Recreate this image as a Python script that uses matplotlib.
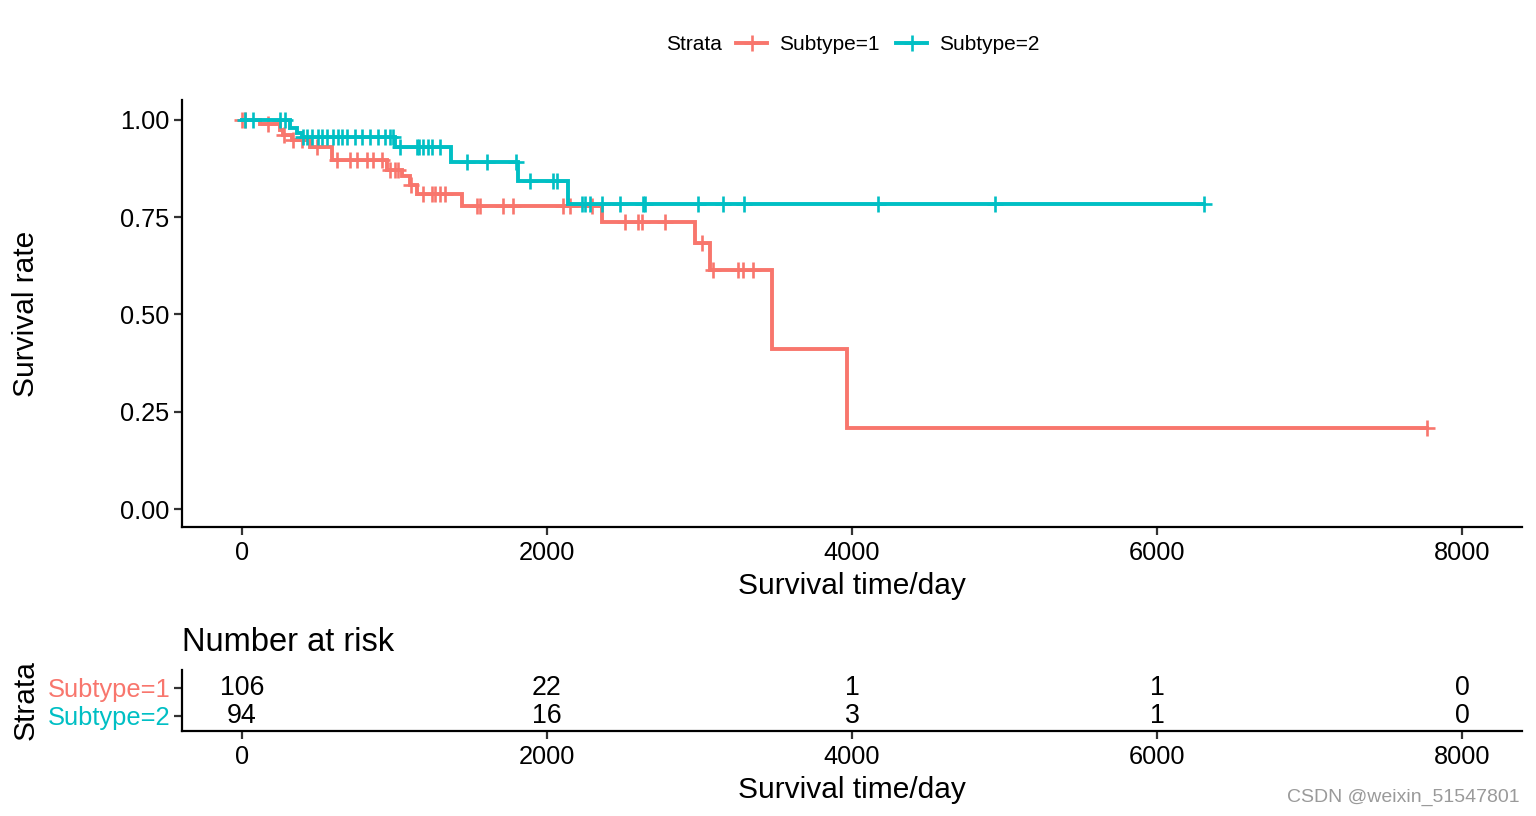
import numpy as np
import matplotlib
matplotlib.use("Agg")
import matplotlib.pyplot as plt
from matplotlib.lines import Line2D

plt.rcParams['font.family'] = ['Liberation Sans', 'DejaVu Sans']

# ---------------- data ----------------
strata = ["Subtype=1", "Subtype=2"]
colors = ["#F8766D", "#00BFC4"]

# Subtype=1 : event times (day) and survival after each step
s1_event_times = [118, 249, 269, 328, 446, 590, 951, 1049, 1102, 1148, 1443, 2361, 2970, 3069, 3475, 3967]
s1_surv = [0.99, 0.975, 0.96, 0.948, 0.93, 0.897, 0.871, 0.855, 0.833, 0.81, 0.779, 0.738, 0.684, 0.614, 0.411, 0.208]
s1_censor = [3, 20, 170, 275, 334, 393, 492, 623, 708, 754, 820, 859, 918, 970, 1003, 1023, 1110,
             1187, 1246, 1266, 1298, 1331, 1541, 1561, 1711, 1777, 2105, 2151, 2295, 2511, 2597,
             2623, 2774, 3016, 3089, 3252, 3285, 3351, 7770]
s1_end = 7770

# Subtype=2
s2_event_times = [315, 361, 393, 1003, 1370, 1810, 2138]
s2_surv = [0.98, 0.967, 0.957, 0.93, 0.892, 0.843, 0.784]
s2_censor = [20, 72, 249, 282, 400, 426, 459, 498, 525, 557, 597, 630, 656, 689, 741, 787, 839, 892,
             938, 970, 990, 1036, 1148, 1161, 1187, 1220, 1246, 1298, 1475, 1607, 1797, 1889, 2039,
             2066, 2230, 2249, 2282, 2361, 2479, 2630, 2643, 2990, 3154, 3292, 4170, 4938, 6308]
s2_end = 6308

risk_times = [0, 2000, 4000, 6000, 8000]
risk_s1 = [106, 22, 1, 1, 0]
risk_s2 = [94, 16, 3, 1, 0]

x_ticks = [0, 2000, 4000, 6000, 8000]
y_ticks = [0.00, 0.25, 0.50, 0.75, 1.00]

# ---------------- figure ----------------
fig = plt.figure(figsize=(15.36, 8.16), dpi=100)
W, H = 1536, 816

def fbox(l, t, r, b):
    return [l / W, 1 - b / H, (r - l) / W, (b - t) / H]

ax = fig.add_axes(fbox(182, 100, 1522, 527))
ax2 = fig.add_axes(fbox(182, 670, 1522, 731))

xlim = (-393, 8393)
lw_axis = 1.6
tick_fs = 18.3
title_fs = 21.5
line_w = 2.8
mk = dict(marker='+', ms=12, mew=1.9)

def surv_at(t, ev, sv):
    idx = np.searchsorted(ev, t, side='right')
    return 1.0 if idx == 0 else sv[idx - 1]

series = [(s1_event_times, s1_surv, s1_censor, s1_end),
          (s2_event_times, s2_surv, s2_censor, s2_end)]
for (ev, sv, cens, end), col, lab in zip(series, colors, strata):
    xs = [0] + list(ev) + [end]
    ys = [1.0] + list(sv) + [sv[-1]]
    ax.step(xs, ys, where='post', color=col, lw=line_w, solid_joinstyle='miter')
    cy = [surv_at(t, ev, sv) for t in cens]
    ax.plot(cens, cy, ls='none', color=col, **mk)

ax.set_xlim(*xlim)
ax.set_ylim(-0.046, 1.051)
ax.set_xticks(x_ticks)
ax.set_yticks(y_ticks)
ax.set_yticklabels([f"{v:.2f}" for v in y_ticks])
ax.set_xlabel("Survival time/day", fontsize=title_fs, labelpad=5)
ax.set_ylabel("Survival rate", fontsize=title_fs)
ax.yaxis.set_label_coords((40 - 182) / 1340, 0.5)
for a in (ax, ax2):
    for s in ("top", "right"):
        a.spines[s].set_visible(False)
    for s in ("left", "bottom"):
        a.spines[s].set_linewidth(lw_axis)
    a.tick_params(axis='both', labelsize=tick_fs, width=lw_axis, length=6, color='#333333', pad=3)
    a.tick_params(axis='x', pad=4)

# legend at the top
fig.text(694 / W, 1 - 45 / H, "Strata", fontsize=15, ha='center', va='center')
handles = [Line2D([], [], color=c, lw=line_w, **mk) for c in colors]
fig.legend(handles, strata, loc='center left', bbox_to_anchor=(736 / W, 1 - 45 / H), ncol=2,
           frameon=False, fontsize=15, handlelength=1.5, handletextpad=0.55, columnspacing=0.8,
           borderaxespad=0, borderpad=0)

# risk table
ypos = [2, 1]
for counts, y in zip([risk_s1, risk_s2], ypos):
    for t, n in zip(risk_times, counts):
        ax2.text(t, y, str(n), ha='center', va='center', fontsize=19.3)
ax2.set_xlim(*xlim)
ax2.set_ylim(0.464, 2.64)
ax2.set_xticks(x_ticks)
ax2.set_yticks(ypos)
ax2.set_yticklabels(strata)
for lbl, c in zip(ax2.get_yticklabels(), colors):
    lbl.set_color(c)
    lbl.set_fontsize(18.4)
ax2.tick_params(axis='y', pad=2)
ax2.set_xlabel("Survival time/day", fontsize=title_fs, labelpad=5)
ax2.set_ylabel("Strata", fontsize=title_fs)
ax2.yaxis.set_label_coords((40 - 182) / 1340, 0.5)
ax2.set_title("Number at risk", fontsize=23.5, loc='left', pad=14)

fig.text(1520 / W, 1 - 797 / H, "CSDN @weixin_51547801", fontsize=14, color='#9a9a9a',
         ha='right', va='center')

fig.savefig("out.png", dpi=100)
